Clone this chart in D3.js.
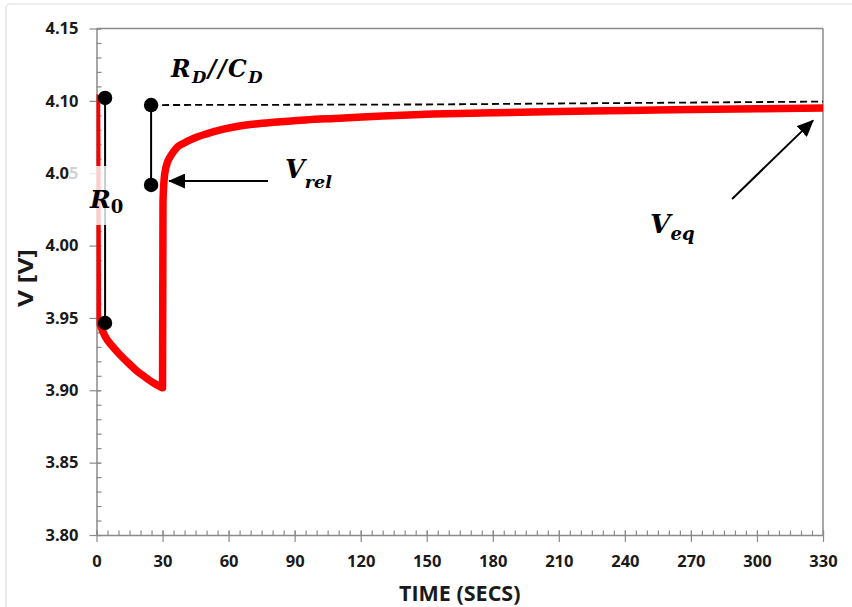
<!DOCTYPE html>
<html><head><meta charset="utf-8">
<script src="https://cdn.jsdelivr.net/npm/d3@7"></script>
<style>body{margin:0;background:#fff} svg{display:block}</style>
</head><body>
<svg id="chart" width="852" height="607"></svg>
<script>
// ---- data ----
const timeSecs = [0, 0.4, 1, 2, 4, 7, 10, 14, 18, 22, 26, 28.5, 29.6, 30, 30.2, 30.8, 31.3, 32.2, 33.5, 35, 37, 39.6, 42.6, 46, 50, 57.7, 65, 72, 80.4, 95, 110.6, 130, 152.8, 180, 210, 242, 270, 300, 330];
const voltage  = [4.102, 3.952, 3.948, 3.944, 3.937, 3.9308, 3.9256, 3.9195, 3.9138, 3.9092, 3.905, 3.9028, 3.902, 3.9018, 4.030, 4.047, 4.0522, 4.0575, 4.0614, 4.0649, 4.0685, 4.0707, 4.0730, 4.0752, 4.0772, 4.0804, 4.0826, 4.0840, 4.0852, 4.0868, 4.0880, 4.0896, 4.0909, 4.0918, 4.0927, 4.0934, 4.0940, 4.0945, 4.0950];
const dashedTime = [24.8, 150, 330];
const dashedVolt = [4.0971, 4.0975, 4.0995];
const r0Time = [3.9, 3.9];
const r0Volt = [4.102, 3.9465];
const rdTime = [24.8, 24.8];
const rdVolt = [4.0971, 4.0419];
const xTickValues = [0, 30, 60, 90, 120, 150, 180, 210, 240, 270, 300, 330];
const yTickValues = [3.80, 3.85, 3.90, 3.95, 4.00, 4.05, 4.10, 4.15];
const xMinorValues = d3.range(0, 331, 5);
const yMinorValues = d3.range(0, 36).map(i => +(3.80 + i * 0.01).toFixed(2));
const xTitle = "TIME (SECS)";
const yTitle = "V [V]";

// ---- layout ----
const L = 96.5, R = 823, T = 28.5, B = 535;
const svg = d3.select("#chart");
const x = d3.scaleLinear().domain([0, 330]).range([L, R]);
const y = d3.scaleLinear().domain([3.80, 4.15]).range([B, T]);
const axisColor = "#8a8a8a";
const labelFont = "'Open Sans', 'Liberation Sans', sans-serif";
const mathFont = "'DejaVu Serif', 'Liberation Serif', serif";

// outer chart border
svg.append("rect").attr("x", 6).attr("y", 4).attr("width", 900).attr("height", 700)
  .attr("rx", 4).attr("fill", "none").attr("stroke", "#dedede").attr("stroke-width", 1.2);

const defs = svg.append("defs");
defs.append("clipPath").attr("id", "plotClip").append("rect")
  .attr("x", L).attr("y", T).attr("width", R - L).attr("height", B - T);
defs.append("marker").attr("id", "arrow").attr("markerUnits", "userSpaceOnUse")
  .attr("viewBox", "0 0 17 15").attr("markerWidth", 17).attr("markerHeight", 15)
  .attr("refX", 16).attr("refY", 7.5).attr("orient", "auto")
  .append("path").attr("d", "M0,0 L17,7.5 L0,15 Z").attr("fill", "#000");

// frame top/right
svg.append("line").attr("x1", L).attr("x2", R).attr("y1", T).attr("y2", T)
  .attr("stroke", axisColor).attr("stroke-width", 1.5);
svg.append("line").attr("x1", R).attr("x2", R).attr("y1", T).attr("y2", B)
  .attr("stroke", axisColor).attr("stroke-width", 1.5);

// x axis: minor ticks inside
const gxMinor = svg.append("g").attr("transform", `translate(0,${B})`)
  .call(d3.axisBottom(x).tickValues(xMinorValues).tickSizeInner(-4.5).tickSizeOuter(0).tickFormat(""));
gxMinor.select(".domain").remove();
// x axis major
const gx = svg.append("g").attr("transform", `translate(0,${B})`)
  .call(d3.axisBottom(x).tickValues(xTickValues).tickSizeInner(7).tickSizeOuter(0).tickPadding(13));
gx.selectAll(".tick line").attr("y1", -4.5);

// y axis: minor inside
const gyMinor = svg.append("g").attr("transform", `translate(${L},0)`)
  .call(d3.axisLeft(y).tickValues(yMinorValues).tickSizeInner(-5).tickSizeOuter(0).tickFormat(""));
gyMinor.select(".domain").remove();
const gy = svg.append("g").attr("transform", `translate(${L},0)`)
  .call(d3.axisLeft(y).tickValues(yTickValues).tickSizeInner(7).tickSizeOuter(0).tickPadding(11).tickFormat(d3.format(".2f")));
gy.selectAll(".tick line").attr("x1", 4);

[gx, gy, gxMinor, gyMinor].forEach(g => {
  g.selectAll(".domain").attr("stroke", axisColor).attr("stroke-width", 1.5);
  g.selectAll(".tick line").attr("stroke", axisColor).attr("stroke-width", 1.2);
  g.selectAll(".tick text").attr("font-family", labelFont).attr("font-weight", 700)
    .attr("font-size", 16.5).attr("fill", "#1a1a1a");
});

// axis titles
svg.append("text").attr("x", (L + R) / 2).attr("y", 601).attr("text-anchor", "middle")
  .attr("font-family", labelFont).attr("font-weight", 700).attr("font-size", 21.5).attr("fill", "#1a1a1a")
  .text(xTitle);
svg.append("text").attr("transform", `translate(32.5,278) rotate(-90)`).attr("text-anchor", "middle")
  .attr("font-family", labelFont).attr("font-weight", 700).attr("font-size", 21)
  .attr("textLength", 58).attr("lengthAdjust", "spacingAndGlyphs").attr("fill", "#1a1a1a")
  .text(yTitle);

// dashed equilibrium line
svg.append("path")
  .datum(dashedTime.map((t, i) => [t, dashedVolt[i]]))
  .attr("d", d3.line().x(d => x(d[0])).y(d => y(d[1])))
  .attr("fill", "none").attr("stroke", "#000").attr("stroke-width", 1.8).attr("stroke-dasharray", "7,4");

// red voltage curve
svg.append("path")
  .datum(timeSecs.map((t, i) => [t, voltage[i]]))
  .attr("clip-path", "url(#plotClip)")
  .attr("d", d3.line().x(d => x(d[0])).y(d => y(d[1])).curve(d3.curveMonotoneX))
  .attr("fill", "none").attr("stroke", "#ff0000").attr("stroke-width", 7.5)
  .attr("stroke-linejoin", "round").attr("stroke-linecap", "round");

// R0 and RD//CD markers
function marker(ts, vs) {
  svg.append("line").attr("x1", x(ts[0])).attr("x2", x(ts[1])).attr("y1", y(vs[0])).attr("y2", y(vs[1]))
    .attr("stroke", "#000").attr("stroke-width", 2);
  ts.forEach((t, i) => svg.append("circle").attr("cx", x(t)).attr("cy", y(vs[i])).attr("r", 7.2).attr("fill", "#000"));
}
marker(r0Time, r0Volt);
marker(rdTime, rdVolt);

// arrows
svg.append("line").attr("x1", x(77.9)).attr("y1", y(4.0446)).attr("x2", x(33.0)).attr("y2", y(4.0446))
  .attr("stroke", "#000").attr("stroke-width", 2).attr("marker-end", "url(#arrow)");
svg.append("line").attr("x1", x(288.7)).attr("y1", y(4.0322)).attr("x2", x(325.5)).attr("y2", y(4.0865))
  .attr("stroke", "#000").attr("stroke-width", 2).attr("marker-end", "url(#arrow)");

// semi-transparent box behind R0 label
svg.append("rect").attr("x", 70).attr("y", 166).attr("width", 62).attr("height", 59)
  .attr("fill", "#fff").attr("opacity", 0.8);

function mathLabel(px, py, parts, ls) {
  const t = svg.append("text").attr("x", px).attr("y", py)
    .attr("font-family", mathFont).attr("font-weight", 700)
    .attr("letter-spacing", ls || 0).attr("fill", "#000");
  parts.forEach(p => t.append("tspan").attr("font-size", p[1]).attr("dy", p[2])
    .attr("font-style", p[3] === false ? "normal" : "italic").text(p[0]));
}
mathLabel(90, 208, [["R", 25, 0], ["0", 18, 5, false]]);
mathLabel(171, 77, [["R", 23.5, 0], ["D", 16.5, 6], ["//C", 23.5, -6], ["D", 16.5, 6]], 1.5);
mathLabel(285, 178, [["V", 25.5, 0], ["rel", 17.5, 10]]);
mathLabel(650, 233, [["V", 26.5, 0], ["eq", 18, 7]]);
</script>
</body></html>
